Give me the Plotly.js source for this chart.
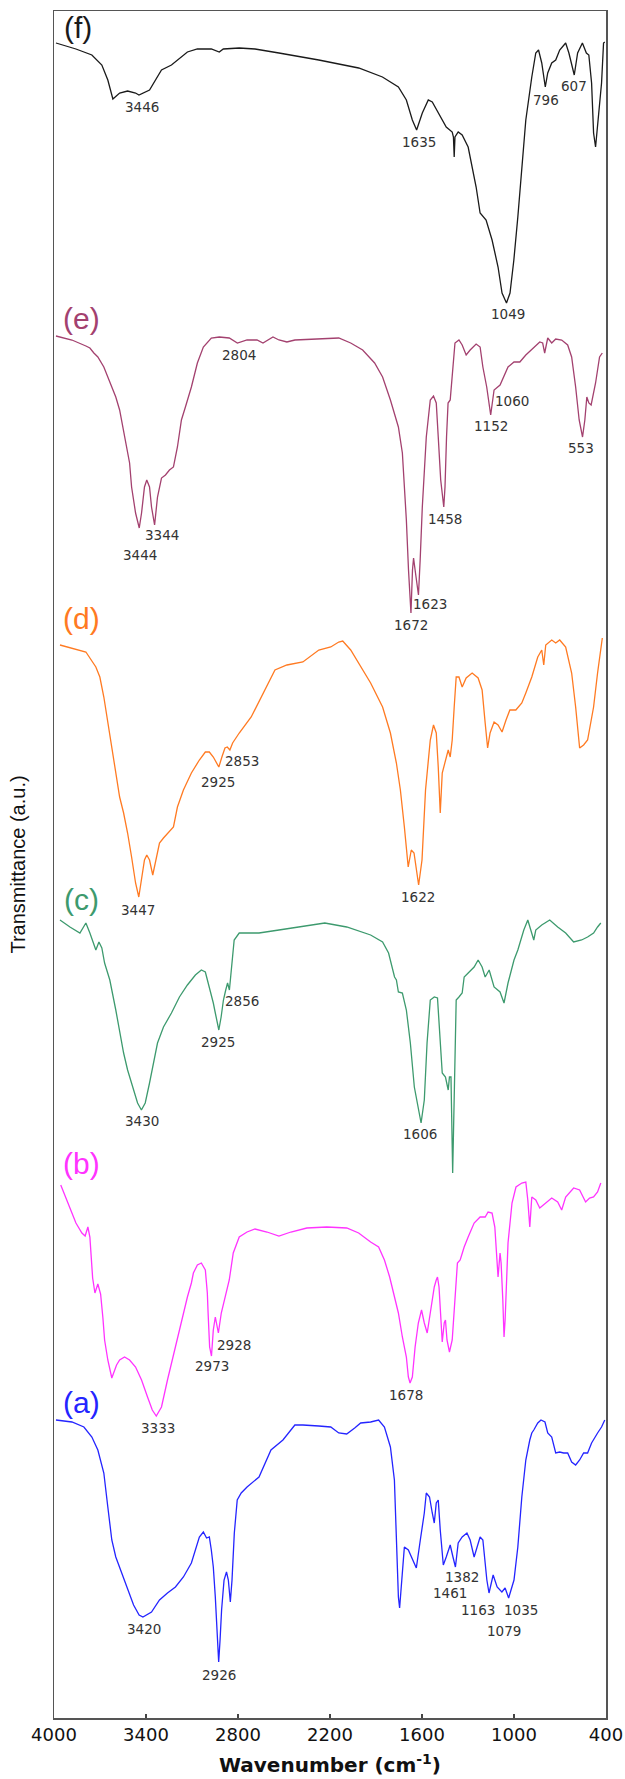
<!DOCTYPE html>
<html>
<head>
<meta charset="utf-8">
<script src="https://cdn.plot.ly/plotly-3.0.1.min.js"></script>
<style>
  html, body { margin: 0; padding: 0; background: #ffffff; }
  #chart { width: 625px; height: 1779px; }
</style>
</head>
<body>
<div id="chart"></div>
<script>
// FTIR spectra of six samples, stacked with vertical offsets (transmittance in arbitrary units).

// (f)
const wnF = [3987,3857,3753,3688,3649,3616,3572,3520,3468,3446,3377,3338,3299,3234,3195,3130,3065,2974,2922,2896,2792,2689,2533,2273,2013,1858,1754,1702,1663,1635,1598,1559,1533,1494,1442,1403,1395,1390,1385,1364,1338,1299,1273,1247,1221,1182,1143,1104,1078,1049,1026,1001,975,949,923,884,858,840,819,796,780,754,728,702,663,642,607,585,554,528,512,494,481,468,455,429,416,408];
const tF  = [1675,1669,1663,1653,1638,1619,1625,1627,1625,1623,1628,1638,1648,1653,1658,1666,1669,1669,1666,1669,1670,1669,1665,1658,1650,1641,1631,1618,1598,1588,1605,1618,1616,1605,1591,1586,1581,1561,1581,1586,1583,1571,1551,1531,1505,1498,1478,1451,1425,1415,1425,1458,1501,1551,1598,1641,1665,1668,1655,1631,1645,1655,1658,1668,1675,1665,1643,1665,1675,1665,1663,1635,1585,1571,1591,1635,1675,1676];

// (e)
const wnE = [3987,3883,3792,3766,3740,3714,3675,3636,3597,3572,3546,3520,3507,3494,3468,3444,3429,3410,3395,3377,3364,3344,3325,3299,3273,3247,3221,3195,3169,3143,3104,3065,3026,2974,2922,2857,2804,2741,2676,2637,2572,2533,2481,2429,2273,2143,2065,1987,1909,1857,1806,1754,1728,1715,1702,1688,1672,1662,1655,1645,1623,1612,1598,1572,1546,1525,1507,1494,1478,1458,1450,1440,1430,1416,1403,1385,1359,1338,1312,1286,1247,1221,1203,1178,1152,1140,1130,1091,1065,1039,1000,962,923,871,832,813,800,780,754,728,689,650,624,598,575,553,538,525,512,497,468,442,424];
const tE  = [1382,1378,1372,1370,1365,1361,1351,1335,1321,1308,1288,1265,1255,1231,1205,1190,1205,1231,1238,1231,1211,1193,1221,1240,1243,1248,1251,1271,1298,1311,1331,1355,1371,1380,1381,1380,1375,1378,1378,1375,1381,1378,1376,1378,1379,1380,1375,1368,1355,1341,1318,1291,1265,1231,1198,1148,1105,1148,1160,1148,1123,1158,1211,1281,1318,1322,1315,1281,1238,1211,1231,1281,1315,1318,1345,1375,1378,1373,1363,1368,1374,1371,1351,1331,1303,1318,1328,1333,1343,1351,1356,1356,1363,1370,1376,1375,1365,1380,1375,1379,1378,1373,1361,1331,1298,1281,1298,1321,1315,1313,1335,1361,1365];

// (d)
const wnD = [3961,3831,3792,3727,3701,3675,3649,3623,3597,3572,3546,3520,3494,3468,3447,3429,3410,3395,3377,3356,3333,3312,3286,3247,3221,3195,3156,3104,3052,3013,2987,2961,2925,2905,2885,2870,2853,2835,2792,2714,2637,2559,2481,2377,2273,2195,2143,2117,2065,2013,1935,1857,1806,1767,1741,1715,1690,1670,1652,1622,1600,1577,1546,1525,1507,1494,1481,1468,1447,1429,1416,1403,1390,1377,1359,1338,1312,1273,1234,1208,1188,1172,1156,1130,1104,1078,1052,1027,988,949,923,884,845,819,806,793,754,728,702,663,624,598,572,546,520,481,455,434,424];
const tD  = [1073,1068,1066,1051,1041,1021,995,968,945,921,905,885,861,835,821,838,858,863,858,843,861,875,880,886,891,911,928,945,958,966,966,961,951,961,970,971,968,975,985,1001,1025,1048,1053,1056,1068,1071,1076,1077,1068,1055,1035,1011,985,955,928,891,851,868,865,833,858,928,978,993,985,951,905,945,958,968,961,978,1011,1041,1041,1031,1040,1045,1040,1028,995,970,985,996,993,986,998,1008,1008,1015,1025,1041,1061,1068,1053,1073,1078,1075,1078,1071,1045,1011,970,973,978,1011,1045,1071,1080];

// (c)
const wnC = [3961,3896,3831,3792,3766,3740,3727,3707,3688,3670,3649,3636,3597,3572,3546,3520,3481,3455,3430,3405,3377,3351,3325,3286,3234,3182,3130,3078,3039,3013,2987,2961,2948,2925,2910,2895,2880,2868,2856,2845,2835,2825,2792,2663,2533,2403,2234,2091,1935,1857,1818,1779,1767,1754,1728,1702,1676,1650,1606,1585,1567,1546,1520,1499,1481,1468,1447,1429,1421,1411,1400,1390,1377,1359,1338,1325,1299,1260,1234,1208,1188,1162,1130,1091,1065,1039,1000,975,936,910,871,858,819,767,715,663,611,559,520,481,455,434];
const tC  = [798,791,785,795,785,775,768,776,770,755,745,738,708,685,665,648,628,615,608,615,635,655,675,691,705,721,733,743,748,746,731,715,705,688,701,718,728,735,728,745,758,778,785,785,788,791,795,791,783,776,765,741,738,726,725,708,675,631,595,618,675,718,721,720,675,645,641,628,641,641,545,618,718,721,725,741,745,751,758,751,741,748,731,726,715,735,758,768,788,798,778,788,793,798,791,785,776,778,781,785,791,795];

// (b)
const wnB = [3956,3935,3909,3883,3857,3818,3797,3779,3766,3748,3733,3714,3696,3681,3670,3649,3623,3592,3572,3540,3507,3468,3429,3390,3359,3333,3299,3260,3208,3169,3130,3104,3091,3065,3039,3013,3000,2995,2985,2973,2961,2948,2928,2909,2883,2857,2831,2792,2741,2689,2611,2533,2455,2351,2221,2091,2013,1935,1883,1845,1811,1793,1774,1754,1728,1702,1689,1678,1663,1645,1624,1603,1585,1566,1546,1520,1507,1499,1489,1481,1468,1455,1447,1437,1421,1403,1390,1377,1369,1351,1325,1299,1260,1221,1188,1169,1143,1125,1110,1104,1091,1084,1073,1065,1058,1047,1039,1013,987,949,923,910,897,884,858,832,793,754,715,689,663,611,572,533,507,481,455,434];
const tB  = [533,525,515,505,495,485,482,491,481,440,425,434,424,400,378,358,340,353,358,361,358,351,338,321,308,302,311,338,371,398,421,435,445,453,455,448,425,405,371,362,388,401,385,405,421,438,465,481,486,489,486,482,486,490,491,490,485,476,471,458,441,430,420,405,381,361,341,335,341,371,395,408,395,385,405,431,438,441,431,405,376,395,398,378,366,378,411,438,455,458,471,481,495,501,501,506,505,491,458,441,465,455,418,381,398,438,475,515,531,535,536,518,491,521,518,510,515,520,516,508,521,530,528,516,520,521,526,535];

// (a)
const wnA = [3987,3883,3805,3753,3714,3675,3649,3623,3597,3559,3520,3481,3445,3420,3364,3312,3260,3208,3156,3104,3052,3026,3005,2987,2974,2961,2948,2935,2926,2917,2907,2891,2875,2863,2850,2839,2824,2805,2779,2741,2663,2585,2507,2429,2377,2273,2195,2143,2091,2039,2000,1935,1883,1845,1806,1780,1767,1754,1746,1733,1715,1689,1663,1637,1611,1585,1572,1551,1533,1520,1507,1494,1481,1461,1442,1416,1398,1382,1364,1338,1307,1286,1260,1239,1221,1203,1188,1177,1163,1136,1110,1079,1058,1035,1000,975,949,923,897,884,871,845,824,798,780,754,728,702,676,650,624,598,572,546,520,494,455,429,408];
const tA  = [298,296,291,281,268,245,211,178,161,145,128,113,103,101,106,118,125,131,141,155,181,186,180,181,168,151,121,85,56,78,108,138,146,138,116,138,185,218,225,231,241,268,278,293,293,292,291,285,284,290,295,296,298,291,271,238,171,121,110,138,171,168,158,150,178,205,225,221,205,195,215,218,188,153,161,173,161,151,175,181,185,178,161,171,181,178,155,138,125,143,131,126,130,120,138,171,221,258,278,285,288,295,298,296,285,281,265,266,265,265,256,253,258,265,265,275,285,291,298];

// Labelled band positions (cm-1) for each spectrum
const peaksF = [3446, 1635, 1049, 796, 607];
const peaksE = [3444, 3344, 2804, 1672, 1623, 1458, 1152, 1060, 553];
const peaksD = [3447, 2925, 2853, 1622];
const peaksC = [3430, 2925, 2856, 1606];
const peaksB = [3333, 2973, 2928, 1678];
const peaksA = [3420, 2926, 1461, 1382, 1163, 1079, 1035];

const sampleNames = ['(a)', '(b)', '(c)', '(d)', '(e)', '(f)'];
const tickValues = [4000, 3400, 2800, 2200, 1600, 1000, 400];
const tickLabels = ['4000', '3400', '2800', '2200', '1600', '1000', '400'];

// Drawing styles: colour, where the sample name sits, and pixel offsets of each band label
const styles = {
  '(a)': { color: '#2424ff', name: [3819, 316],
           shifts: [[0.6,-11.7],[0.6,-13.3],[6.9,-28.3],[6.8,-10],[-10.9,-16.7],[2.1,-39],[12.1,-11.7]] },
  '(b)': { color: '#ff33ff', name: [3819, 555],
           shifts: [[1.3,-11.7],[0.5,-10],[15.5,-11.7],[-4.4,-11.7]] },
  '(c)': { color: '#3d9a6e', name: [3819, 819],
           shifts: [[0.2,-11],[-0.4,-11.7],[12.6,-11],[-0.8,-11]] },
  '(d)': { color: '#ff7a22', name: [3819, 1100],
           shifts: [[-0.4,-13.3],[-0.4,-15],[12.1,-10.7],[-0.3,-12.3]] },
  '(e)': { color: '#a3416f', name: [3819, 1400],
           shifts: [[0.4,-26.7],[7,-10],[1.8,-11.7],[0.2,-11.7],[11.8,-9.3],[1.3,-12.3],[0.1,-11],[7.1,-27.3],[-1.7,-11]] },
  '(f)': { color: '#1a1a1a', name: [3845, 1691],
           shifts: [[3.5,-11.7],[2.5,-11.7],[1.5,-11],[0.5,-13.3],[-0.6,-11]] }
};

const series = [
  { name: '(a)', wn: wnA, t: tA, peaks: peaksA },
  { name: '(b)', wn: wnB, t: tB, peaks: peaksB },
  { name: '(c)', wn: wnC, t: tC, peaks: peaksC },
  { name: '(d)', wn: wnD, t: tD, peaks: peaksD },
  { name: '(e)', wn: wnE, t: tE, peaks: peaksE },
  { name: '(f)', wn: wnF, t: tF, peaks: peaksF }
];

// Value of a spectrum at a given wavenumber (arrays run from high to low wavenumber)
function valueAt(wn, t, x) {
  for (let i = 0; i < wn.length - 1; i++) {
    if (x <= wn[i] && x >= wn[i + 1]) {
      const f = (wn[i] - x) / (wn[i] - wn[i + 1]);
      return t[i] + f * (t[i + 1] - t[i]);
    }
  }
  return t[t.length - 1];
}

const traces = series.map(s => ({
  x: s.wn,
  y: s.t,
  type: 'scatter',
  mode: 'lines',
  name: s.name,
  line: { color: styles[s.name].color, width: 1.3 },
  hoverinfo: 'x+name'
}));

const annotations = [];
series.forEach(s => {
  const st = styles[s.name];
  s.peaks.forEach((p, i) => {
    annotations.push({
      x: p, y: valueAt(s.wn, s.t, p), xref: 'x', yref: 'y',
      text: String(p), showarrow: false,
      xanchor: 'center', yanchor: 'middle',
      xshift: st.shifts[i][0], yshift: st.shifts[i][1],
      font: { family: 'DejaVu Sans, Verdana, sans-serif', size: 13.5, color: '#333333' }
    });
  });
  annotations.push({
    x: st.name[0], y: st.name[1], xref: 'x', yref: 'y',
    text: s.name, showarrow: false, xanchor: 'center', yanchor: 'middle',
    font: { family: 'Liberation Sans, Arial, sans-serif', size: 30, color: st.color }
  });
});

const layout = {
  width: 625,
  height: 1779,
  margin: { l: 54, r: 19, t: 11, b: 61 },
  paper_bgcolor: '#ffffff',
  plot_bgcolor: '#ffffff',
  showlegend: false,
  xaxis: {
    range: [4000, 400],
    tickmode: 'array',
    tickvals: tickValues,
    ticktext: tickLabels,
    ticks: 'inside',
    ticklen: 4,
    tickwidth: 1.2,
    tickcolor: '#444444',
    showline: true,
    mirror: true,
    linecolor: '#555555',
    linewidth: 1.5,
    showgrid: false,
    zeroline: false,
    tickfont: { family: 'DejaVu Sans, Verdana, sans-serif', size: 18, color: '#111111' },
    title: {
      text: '<b>Wavenumber (cm<sup>-1</sup>)</b>',
      font: { family: 'DejaVu Sans, Verdana, sans-serif', size: 20, color: '#111111' },
      standoff: 14
    }
  },
  yaxis: {
    range: [0, 1707],
    showticklabels: false,
    ticks: '',
    showline: true,
    mirror: true,
    linecolor: '#555555',
    linewidth: 1.5,
    showgrid: false,
    zeroline: false,
    title: {
      text: 'Transmittance (a.u.)',
      font: { family: 'Liberation Sans, Arial, sans-serif', size: 20, color: '#111111' },
      standoff: 21
    }
  },
  annotations: annotations
};

Plotly.newPlot('chart', traces, layout, { displayModeBar: false, staticPlot: true });
</script>
</body>
</html>
